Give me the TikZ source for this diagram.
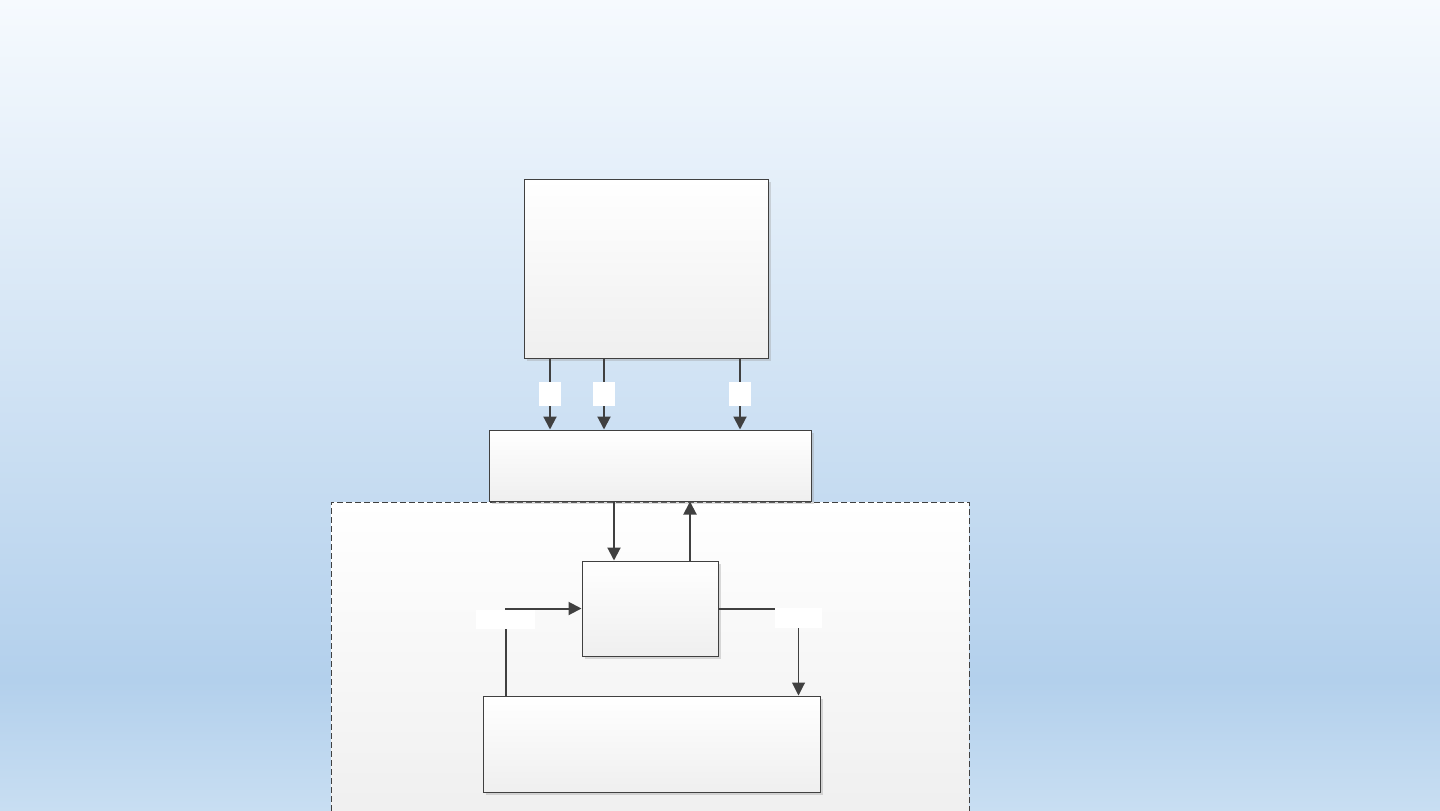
\documentclass[tikz,border=0pt]{standalone}
\usetikzlibrary{arrows.meta,shadows}
\definecolor{bgtop}{HTML}{F6FAFE}
\definecolor{bgmid}{HTML}{B3D0EC}
\definecolor{bgbot}{HTML}{C8DEF2}
\definecolor{edge}{HTML}{404040}
\definecolor{boxbot}{HTML}{EFEFEF}
\begin{document}
\begin{tikzpicture}[x=0.5pt,y=0.5pt,
  blk/.style={draw=edge,line width=0.5pt,top color=white,bottom color=boxbot,
    inner sep=0pt,drop shadow={shadow xshift=1.5pt,shadow yshift=-1.5pt,fill=black!40,opacity=0.35}},
  lbl/.style={fill=white,draw=none,inner sep=0pt},
  conn/.style={draw=edge,line width=1pt},
  arr/.style={conn,-{Triangle[length=6.5pt,width=6.5pt]}},
  tarr/.style={draw=edge,line width=0.5pt,-{Triangle[length=6.5pt,width=6.5pt]}}]
\useasboundingbox (0,0) rectangle (1440,-810);
\clip (0,0) rectangle (1440,-810);
% background
\shade[top color=bgtop,bottom color=bgmid] (0,0) rectangle (1440,-680);
\shade[top color=bgmid,bottom color=bgbot] (0,-680) rectangle (1440,-811);
% container
\node[draw=edge,line width=0.5pt,dash pattern=on 3pt off 1.5pt,top color=white,bottom color=boxbot,
  minimum width=319pt,minimum height=160pt,inner sep=0pt] (cont) at (650,-662) {};
% boxes
\node[blk,minimum width=122pt,minimum height=89.5pt] (top) at (646,-268.5) {};
\node[blk,minimum width=161pt,minimum height=35.5pt] (mid) at (650,-465.5) {};
\node[blk,minimum width=68pt,minimum height=47.5pt] (sm) at (650,-608.5) {};
\node[blk,minimum width=168.5pt,minimum height=48pt] (bot) at (651.5,-744) {};
% coordinates for connector x positions
\coordinate (c1) at (550,-394);
\coordinate (c2) at (604,-394);
\coordinate (c3) at (740,-394);
\coordinate (cd) at (614,-530);
\coordinate (cu) at (690,-530);
\coordinate (cL) at (505.5,-619.5);
\coordinate (cR) at (798.5,-618);
% connectors
\draw[arr] (c1 |- top.south) -- (c1 |- mid.north);
\draw[arr] (c2 |- top.south) -- (c2 |- mid.north);
\draw[arr] (c3 |- top.south) -- (c3 |- mid.north);
\draw[arr] (cd |- mid.south) -- (cd |- sm.north);
\draw[arr] (cu |- sm.north) -- (cu |- mid.south);
\draw[arr] (cL |- bot.north) |- (sm.west);
\draw[conn] (sm.east) -- (sm.east -| cR);
\draw[tarr] (sm.east -| cR) -- (cR |- bot.north);
% white label boxes
\node[lbl,minimum width=11pt,minimum height=12pt] (l1) at (c1) {};
\node[lbl,minimum width=11pt,minimum height=12pt] (l2) at (c2) {};
\node[lbl,minimum width=11pt,minimum height=12pt] (l3) at (c3) {};
\node[lbl,minimum width=29.5pt,minimum height=9.5pt] (lL) at (cL) {};
\node[lbl,minimum width=23.5pt,minimum height=10pt] (lR) at (cR) {};
\end{tikzpicture}
\end{document}
